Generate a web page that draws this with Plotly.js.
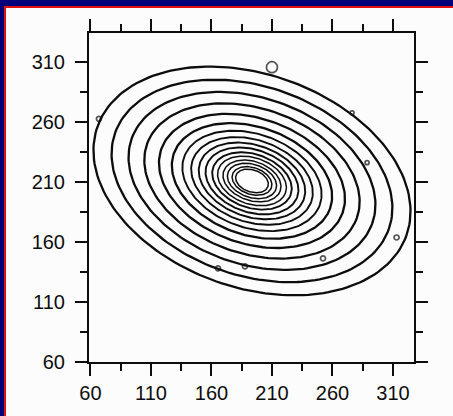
<!DOCTYPE html>
<html>
<head>
<meta charset="utf-8">
<script src="https://cdn.plot.ly/plotly-3.0.1.min.js"></script>
<style>
  html, body { margin:0; padding:0; width:453px; height:416px; overflow:hidden; background:#00007a; }
  #frame { position:absolute; left:4px; top:6px; width:449px; height:410px; border-left:2px solid #e01010; border-top:2px solid #e01010; background:#fcfcfc; }
  #chart { position:absolute; left:0; top:0; }
</style>
</head>
<body>
<div id="frame"><div id="chart"></div></div>
<script>
// ---- data ----
const tickVals = [60, 110, 160, 210, 260, 310];
const tickText = ["60", "110", "160", "210", "260", "310"];
const minorTickVals = [85, 135, 185, 235, 285];
// contour rings: common centre, tilt and axis ratio; semi-major axis of each ring
const ringCenterX = 193.5;
const ringCenterY = 210.8;
const ringTiltDeg = -19.7;
const ringAxisRatio = 0.655;
const ringSemiMajor = [14.0, 17.0, 21.0, 24.8, 29.4, 34.0, 39.7, 45.5, 52.0, 59.5, 68.5, 79.5, 92.0, 105.5, 120.0, 135.5];
// little closed loops (noise blips) on the contours
const blipX = [210.0, 165.4, 187.7, 252.2, 313.0, 288.6, 276.2, 67.0];
const blipY = [305.5, 138.0, 139.7, 146.3, 163.7, 226.0, 267.5, 262.5];
const blipSize = [11, 5, 5, 5, 5, 4, 4, 5];

const traces = [];
const th = ringTiltDeg * Math.PI / 180;
ringSemiMajor.forEach(function (a) {
  const b = a * ringAxisRatio;
  const xs = [], ys = [];
  const n = 180;
  for (let i = 0; i <= n; i++) {
    const t = 2 * Math.PI * i / n;
    xs.push(ringCenterX + a * Math.cos(t) * Math.cos(th) - b * Math.sin(t) * Math.sin(th));
    ys.push(ringCenterY + a * Math.cos(t) * Math.sin(th) + b * Math.sin(t) * Math.cos(th));
  }
  traces.push({
    type: 'scatter', mode: 'lines', x: xs, y: ys,
    line: { color: '#0d0d0d', width: a < 30 ? 1.5 : (a < 60 ? 1.9 : 2.3) },
    hoverinfo: 'skip', showlegend: false
  });
});
traces.push({
  type: 'scatter', mode: 'markers', x: blipX, y: blipY,
  marker: { symbol: 'circle-open', size: blipSize, color: '#0d0d0d', line: { width: 1.7, color: '#0d0d0d' } },
  hoverinfo: 'skip', showlegend: false
});

const axisCommon = {
  tickmode: 'array', tickvals: tickVals, ticktext: tickText,
  ticks: 'outside', ticklen: 12, tickwidth: 2, tickcolor: '#0d0d0d',
  showline: true, linewidth: 2, linecolor: '#0d0d0d', mirror: 'allticks',
  showgrid: false, zeroline: false,
  tickfont: { family: 'Liberation Sans, Arial, sans-serif', size: 20, color: '#0d0d0d' },
  minor: { tickmode: 'array', tickvals: minorTickVals, ticks: 'outside', ticklen: 7, tickwidth: 2, tickcolor: '#0d0d0d', showgrid: false }
};

const layout = {
  width: 447, height: 408,
  margin: { l: 83, r: 39, t: 25, b: 54 },
  paper_bgcolor: '#fcfcfc', plot_bgcolor: '#fcfcfc',
  showlegend: false, hovermode: false,
  xaxis: Object.assign({}, axisCommon, { range: [58.8, 327.4] }),
  yaxis: Object.assign({}, axisCommon, { range: [60, 334], ticklabelstandoff: 6 })
};

Plotly.newPlot('chart', traces, layout, { displayModeBar: false, staticPlot: true });
</script>
</body>
</html>
